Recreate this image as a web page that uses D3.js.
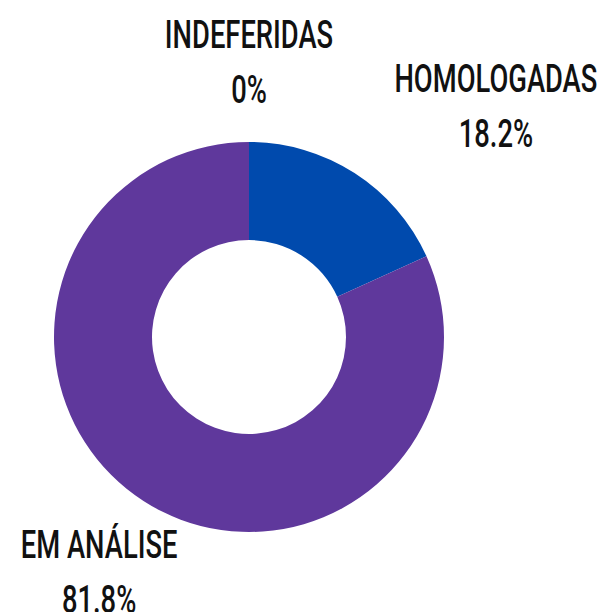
<!DOCTYPE html>
<html lang="pt">
<head>
<meta charset="UTF-8">
<title>Status</title>
<script src="https://d3js.org/d3.v7.min.js"></script>
<style>
  body { margin: 0; background: #fff; }
  text { font-family: "Roboto", "Liberation Sans", sans-serif; font-weight: 500; fill: #111; }
</style>
</head>
<body>
<div id="chart"></div>
<script>
    // data
    const categories = ["HOMOLOGADAS", "EM ANÁLISE", "INDEFERIDAS"];
    const values = [18.2, 81.8, 0];
    const percentLabels = ["18.2%", "81.8%", "0%"];
    const colors = ["#004aad", "#5f389c", "#7a7a7a"];

    const width = 601, height = 612;
    const cx = 249, cy = 337;
    const outerR = 195, innerR = 97;

    const svg = d3.select("#chart").append("svg")
        .attr("width", width)
        .attr("height", height);

    const g = svg.append("g").attr("transform", `translate(${cx},${cy})`);

    const pie = d3.pie().sort(null).value(d => d.value);
    const arcs = pie(categories.map((c, i) => ({ name: c, value: values[i], pct: percentLabels[i], color: colors[i] })));

    const arc = d3.arc().innerRadius(innerR).outerRadius(outerR);
    const labelArc = d3.arc().innerRadius(277).outerRadius(277);

    g.selectAll("path")
        .data(arcs)
        .enter()
        .append("path")
        .attr("d", arc)
        .style("fill", d => d.data.color);

    // horizontal nudge so the top labels don't collide
    const nudge = [97, 0, 0];

    const lab = g.selectAll("g.lab")
        .data(arcs)
        .enter()
        .append("g")
        .attr("class", "lab")
        .attr("transform", (d, i) => {
            const [x, y] = labelArc.centroid(d);
            return `translate(${x + nudge[i]},${y}) scale(0.72,1)`;
        });

    lab.append("text")
        .attr("text-anchor", "middle")
        .attr("y", -12)
        .style("font-size", "38px")
        .text(d => d.data.name);

    lab.append("text")
        .attr("text-anchor", "middle")
        .attr("y", 43)
        .style("font-size", "38px")
        .text(d => d.data.pct);
</script>
</body>
</html>
